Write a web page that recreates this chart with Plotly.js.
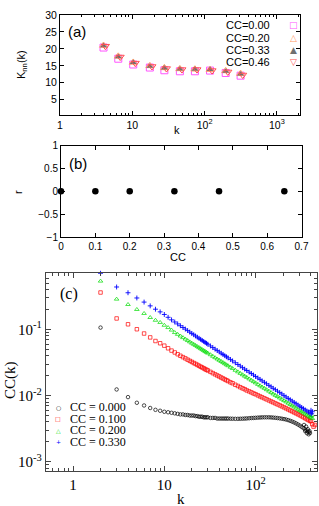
<!DOCTYPE html>
<html><head><meta charset="utf-8">
<script src="https://cdn.plot.ly/plotly-3.0.1.min.js"></script>
<style>html,body{margin:0;padding:0;background:#fff}#g{width:319px;height:506px}</style>
</head><body><div id="g"></div>
<script>
// ---------- Panel (a): Knn(k) ----------
const kA = [4, 6.4, 10.3, 17.5, 27.8, 45.5, 73.5, 119, 196, 315];
const kA46 = [4.25, 6.8, 11.0, 18.7, 29.7, 48.6, 78.5, 127, 210, 337];
const knn000 = [20.4, 17.1, 15.4, 14.5, 13.7, 13.4, 13.4, 13.6, 12.9, 12.1];
const knn020 = [21.0, 17.8, 16.0, 15.0, 14.4, 14.1, 14.0, 13.9, 13.5, 12.7];
const knn033 = [20.9, 17.7, 16.0, 14.9, 14.4, 14.1, 14.0, 13.9, 13.4, 12.6];
const knn046 = [20.8, 17.6, 15.8, 14.8, 14.2, 13.9, 13.9, 13.6, 13.2, 12.3];
const legendA = ["CC=0.00", "CC=0.20", "CC=0.33", "CC=0.46"];
const tickA_x = [1, 10, 100, 1000];
const tickA_xt = ["1", "10", "10<sup>2</sup>", "10<sup>3</sup>"];
const tickA_y = [5, 10, 15, 20, 25, 30];

// ---------- Panel (b): r vs CC ----------
const ccB = [0, 0.1, 0.2, 0.33, 0.46, 0.65];
const rB = [0, 0, 0, 0, 0, 0];

// ---------- Panel (c): CC(k) ----------
const kC = [2,3,4,5,6,7,8,9,10,11,12,13,14,15,16,17,18,19,20,21,22,23,24,25,26,27,28,29,30,
  32,34,36,38,40,42,44,46,48,50,53,56,60,64,68,72,76,80,85,90,95,100,
  106,112,118,125,132,140,148,156,165,174,184,194,205,216,228,240,252,265,278,292,306,320,335,350,365,380,395];
const cc000 = [0.107,0.0124,0.0095,0.0078,0.0071,0.0065,0.0061,0.0059,0.0057,0.0056,0.0055,0.0054,
  0.0053,0.0052,0.0052,0.0051,0.0051,0.0050,0.0050,0.0050,0.0049,0.0049,0.0048,0.0048,0.0048,0.0047,0.0047,0.0047,0.0047,
  0.0046,0.0046,0.0046,0.0045,0.0045,0.0045,0.0045,0.0045,0.0045,0.0045,
  0.00448,0.00447,0.00446,0.00446,0.00447,0.00448,0.0045,0.00452,
  0.00455,0.00458,0.0046,0.00462,
  0.00465,0.00467,0.00469,0.0047,0.0047,0.0047,0.00468,0.00465,0.00462,0.00458,0.00453,0.00448,0.00442,0.00435,0.00426,0.00416,0.00405,0.00393,0.0038,0.00366,0.00352,0.00337,0.00322,0.00308,0.00295,0.00282,0.00272];
const cc100 = [0.363,0.147,0.120,0.101,0.087,0.076,0.067,0.062,0.057,0.052,0.048,0.045,
  0.0423,0.0401,0.0382,0.0366,0.0350,0.0336,0.0324,0.0312,0.0302,0.0292,0.0283,0.0274,0.0267,0.0259,0.0252,0.0246,0.0240,
  0.0229,0.0219,0.0210,0.0202,0.0195,0.0188,0.0182,0.0176,0.0171,0.0166,
  0.0159,0.0154,0.0146,0.0140,0.0134,0.0129,0.0125,0.0120,
  0.0116,0.0112,0.0108,0.0105,
  0.0101,0.00974,0.00943,0.00910,0.00879,0.00847,0.00818,0.00791,0.00763,0.00738,0.00713,0.00689,0.00665,0.00642,0.00618,0.00597,0.00578,0.00558,0.00540,0.00522,0.00505,0.00488,0.00471,0.00455,0.00440,0.00427,0.00414];
const cc200 = [0.54,0.288,0.239,0.201,0.175,0.152,0.138,0.128,0.116,0.107,0.098,0.090,
  0.0846,0.0797,0.0754,0.0716,0.0681,0.0650,0.0622,0.0597,0.0574,0.0552,0.0532,0.0514,0.0497,0.0481,0.0466,0.0452,0.0439,
  0.0416,0.0394,0.0375,0.0358,0.0343,0.0329,0.0316,0.0304,0.0293,0.0283,
  0.0269,0.0257,0.0242,0.0229,0.0217,0.0207,0.0197,0.0189,
  0.0179,0.0171,0.0163,0.0156,
  0.0148,0.0141,0.0135,0.0129,0.0123,0.0117,0.0111,0.0106,0.0101,0.00969,0.00923,0.00882,0.00841,0.00804,0.00768,0.00735,0.00704,0.00675,0.00647,0.00620,0.00596,0.00574,0.00551,0.00531,0.00512,0.00494,0.00478];
const cc330 = [0.71,0.44,0.36,0.30,0.26,0.228,0.203,0.185,0.169,0.153,0.140,0.130,
  0.1216,0.1141,0.1074,0.1016,0.0963,0.0915,0.0873,0.0834,0.0799,0.0766,0.0737,0.0710,0.0684,0.0660,0.0638,0.0618,0.0599,
  0.0564,0.0533,0.0505,0.0480,0.0458,0.0438,0.0419,0.0402,0.0387,0.0372,
  0.0353,0.0335,0.0314,0.0296,0.0280,0.0265,0.0252,0.0240,
  0.0227,0.0216,0.0205,0.0195,
  0.0185,0.0176,0.0167,0.0159,0.0151,0.0143,0.0136,0.0129,0.0123,0.0117,0.0111,0.0106,0.0100,0.00954,0.00908,0.00866,0.00827,0.00790,0.00755,0.00721,0.00691,0.00662,0.00635,0.00609,0.00586,0.00564,0.00545];
// noisy tails
const kTail000 = [340,350,358,366,374,382,390];
const yTail000 = [0.0036,0.0029,0.0034,0.0027,0.0031,0.0026,0.0029];
const kTail100 = [405,418,432,448];
const yTail100 = [0.0041,0.0037,0.0034,0.0036];
const kTail200 = [405,412,420];
const yTail200 = [0.0047,0.0050,0.0045];
const kTail330 = [405,412,420];
const yTail330 = [0.0060,0.0053,0.0057];
const legendC = ["CC = 0.000", "CC = 0.100", "CC = 0.200", "CC = 0.330"];
const tickC_x = [1, 10, 100];
const tickC_xt = ["1", "10", "10<sup>2</sup>"];
const tickC_y = [0.001, 0.01, 0.1];
const tickC_yt = ["10<sup>-3</sup>", "10<sup>-2</sup>", "10<sup>-1</sup>"];

// ---------- helpers ----------
const W = 319, H = 506;
const px = x => x / W, py = y => 1 - y / H;
const SANS = "Liberation Sans, Arial, sans-serif";
const SERIF = "Liberation Serif, Times New Roman, serif";

const traces = [
  {x: kA, y: knn000, xaxis: 'x', yaxis: 'y', mode: 'markers', cliponaxis: false,
   marker: {symbol: 'square-open', size: 7, color: '#ff55ff', line: {width: 1}}},
  {x: kA, y: knn020, xaxis: 'x', yaxis: 'y', mode: 'markers', cliponaxis: false,
   marker: {symbol: 'triangle-up-open', size: 7, color: '#ff9966', line: {width: 1}}},
  {x: kA, y: knn033, xaxis: 'x', yaxis: 'y', mode: 'markers', cliponaxis: false,
   marker: {symbol: 'triangle-up', size: 6, color: '#707070'}},
  {x: kA46, y: knn046, xaxis: 'x', yaxis: 'y', mode: 'markers', cliponaxis: false,
   marker: {symbol: 'triangle-down-open', size: 7, color: '#ff5050', line: {width: 1}}},

  {x: ccB, y: rB, xaxis: 'x2', yaxis: 'y2', mode: 'markers', cliponaxis: false,
   marker: {symbol: 'circle', size: 6.5, color: '#000'}},

  {x: kC.concat(kTail000), y: cc000.concat(yTail000), xaxis: 'x3', yaxis: 'y3', mode: 'markers', cliponaxis: false,
   marker: {symbol: 'circle-open', size: 3.5, color: '#000', line: {width: 0.7}}},
  {x: kC.concat(kTail100), y: cc100.concat(yTail100), xaxis: 'x3', yaxis: 'y3', mode: 'markers', cliponaxis: false,
   marker: {symbol: 'square-open', size: 3.5, color: '#ff0000', line: {width: 0.7}}},
  {x: kC.concat(kTail200), y: cc200.concat(yTail200), xaxis: 'x3', yaxis: 'y3', mode: 'markers', cliponaxis: false,
   marker: {symbol: 'triangle-up-open', size: 4, color: '#00dd00', line: {width: 0.7}}},
  {x: kC.concat(kTail330), y: cc330.concat(yTail330), xaxis: 'x3', yaxis: 'y3', mode: 'markers', cliponaxis: false,
   marker: {symbol: 'cross-thin-open', size: 3.5, color: '#0000ff', line: {width: 0.9, color: '#0000ff'}}}
];

const axA = {showline: true, linecolor: '#000', linewidth: 1, mirror: 'ticks', ticks: 'inside',
  ticklen: 4, tickcolor: '#000', showgrid: false, zeroline: false,
  tickfont: {family: SANS, size: 10.5, color: '#000'}};
const axC = {showline: true, linecolor: '#444', linewidth: 1, mirror: 'ticks', ticks: 'inside',
  ticklen: 5, tickcolor: '#444', showgrid: false, zeroline: false,
  tickfont: {family: SERIF, size: 15, color: '#000'}};

const layout = {
  width: W, height: H, margin: {l: 0, r: 0, t: 0, b: 0},
  paper_bgcolor: '#fff', plot_bgcolor: '#fff', showlegend: false,
  xaxis: Object.assign({}, axA, {domain: [px(60), px(300)], anchor: 'y', type: 'log', range: [0, 3.32],
    tickmode: 'array', tickvals: tickA_x, ticktext: tickA_xt,
    minor: {ticks: 'inside', ticklen: 2, dtick: 'D1', tickcolor: '#000', showgrid: false}}),
  yaxis: Object.assign({}, axA, {domain: [py(115), py(15)], anchor: 'x', range: [0.5, 30],
    tickmode: 'array', tickvals: tickA_y}),
  xaxis2: Object.assign({}, axA, {domain: [px(61), px(301.5)], anchor: 'y2', range: [0, 0.7], dtick: 0.1,
    tickfont: {family: SANS, size: 10, color: '#000'}}),
  yaxis2: Object.assign({}, axA, {domain: [py(237), py(145.7)], anchor: 'x2', range: [-1, 1], dtick: 0.5,
    tickfont: {family: SANS, size: 10, color: '#000'}}),
  xaxis3: Object.assign({}, axC, {domain: [px(45.7), px(316.7)], anchor: 'y3', type: 'log', range: [-0.30, 2.67],
    tickmode: 'array', tickvals: tickC_x, ticktext: tickC_xt,
    minor: {ticks: 'inside', ticklen: 3, dtick: 'D1', tickcolor: '#444', showgrid: false}}),
  yaxis3: Object.assign({}, axC, {domain: [py(471), py(273)], anchor: 'x3', type: 'log', range: [-3.14, -0.145],
    tickmode: 'array', tickvals: tickC_y, ticktext: tickC_yt,
    minor: {ticks: 'inside', ticklen: 3, dtick: 'D1', tickcolor: '#444', showgrid: false}}),
  annotations: []
};

function ann(text, x, y, opts) {
  layout.annotations.push(Object.assign({text: text, x: px(x), y: py(y), xref: 'paper', yref: 'paper',
    showarrow: false, xanchor: 'center', yanchor: 'middle'}, opts || {}));
}
// Panel (a) labels
ann("(a)", 66, 32, {xanchor: 'left', font: {family: SANS, size: 15, color: '#000'}});
ann("K<sub>nn</sub>(k)", 22, 65, {textangle: -90, font: {family: SANS, size: 11, color: '#000'}});
ann("k", 177, 130, {font: {family: SANS, size: 11, color: '#000'}});
const symA = ["□", "△", "▲", "▽"];
const colA = ['#ff55ff', '#ff9966', '#707070', '#ff5050'];
const rowA = [25, 37.5, 50, 62.5];
for (let i = 0; i < 4; i++) {
  ann(legendA[i], 272, rowA[i], {xanchor: 'right', font: {family: SANS, size: 11, color: '#000'}});
  ann(symA[i], 293, rowA[i], {font: {family: 'DejaVu Sans', size: 9, color: colA[i]}});
}
// Panel (b) labels
ann("(b)", 67, 163, {xanchor: 'left', font: {family: SANS, size: 15, color: '#000'}});
ann("r", 18, 192, {textangle: -90, font: {family: SANS, size: 11, color: '#000'}});
ann("CC", 178, 257, {font: {family: SANS, size: 11, color: '#000'}});
// Panel (c) labels
ann("(c)", 58, 294, {xanchor: 'left', font: {family: SERIF, size: 16, color: '#000'}});
ann("CC(k)", 10, 380, {textangle: -90, font: {family: SERIF, size: 15, color: '#000'}});
ann("k", 181, 499, {font: {family: SERIF, size: 15, color: '#000'}});
const symC = ["○", "□", "△", "+"];
const colC = ['#000', '#ff0000', '#00dd00', '#0000ff'];
const rowC = [407, 418.5, 430, 441.5];
for (let i = 0; i < 4; i++) {
  ann(symC[i], 58, rowC[i], {font: {family: 'DejaVu Sans', size: 6, color: colC[i]}});
  ann(legendC[i], 68, rowC[i], {xanchor: 'left', font: {family: SERIF, size: 12, color: '#000'}});
}

Plotly.newPlot('g', traces, layout, {staticPlot: true, displayModeBar: false});
</script>
</body></html>
